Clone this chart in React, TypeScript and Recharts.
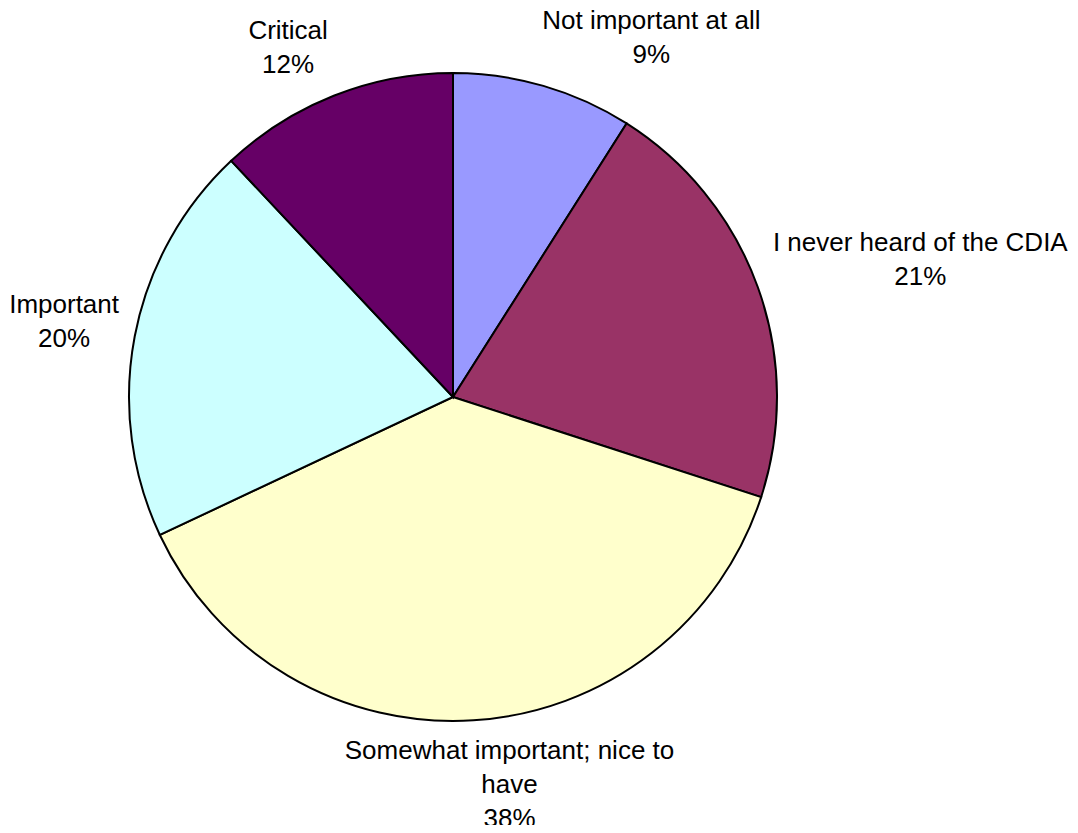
import React from 'react';
import { PieChart, Pie, Cell } from 'recharts';

const categories = [
  'Not important at all',
  'I never heard of the CDIA',
  'Somewhat important; nice to have',
  'Important',
  'Critical',
];
const shares = [9, 21, 38, 20, 12];
const colors = ['#9999FF', '#993366', '#FFFFCC', '#CCFFFF', '#660066'];

const data = categories.map((name, i) => ({ name, value: shares[i] }));

const W = 1078;
const H = 833;
const FONT_SIZE = 26;
const LINE_H = 34;
const FONT = `${FONT_SIZE}px 'Liberation Sans', Arial, sans-serif`;

let ctx: CanvasRenderingContext2D | null = null;
const measure = (s: string) => {
  if (!ctx) ctx = document.createElement('canvas').getContext('2d');
  if (!ctx) return s.length * FONT_SIZE * 0.5;
  ctx.font = FONT;
  return ctx.measureText(s).width;
};

// simple word wrap, like the office label box
const wrap = (text: string, maxW: number) => {
  const words = text.split(' ');
  const lines: string[] = [];
  let cur = '';
  words.forEach((w) => {
    const next = cur ? cur + ' ' + w : w;
    if (cur && measure(next) > maxW) {
      lines.push(cur);
      cur = w;
    } else cur = next;
  });
  if (cur) lines.push(cur);
  return lines;
};

const clamp = (v: number) => Math.max(-1, Math.min(1, v));
const RAD = Math.PI / 180;

const renderLabel = (props: any) => {
  const { cx, cy, midAngle, outerRadius, name, percent } = props;
  const lines = [...wrap(name, 370), `${Math.round(percent * 100)}%`];
  const w = Math.max(...lines.map(measure));
  const h = lines.length * LINE_H;
  const ux = Math.cos(midAngle * RAD);
  const uy = -Math.sin(midAngle * RAD);
  const R = outerRadius + 16;
  const bx = cx + R * ux + (w / 2) * clamp(ux * 3.4);
  const by = cy + R * uy + (h / 2) * clamp(uy * 2);
  let first = by - ((lines.length - 1) * LINE_H) / 2 + 9;
  // keep the label box inside the chart
  const last = first + (lines.length - 1) * LINE_H;
  if (last > H - 6) first -= last - (H - 6);
  return (
    <text
      x={bx}
      y={first}
      textAnchor="middle"
      fill="#000"
      style={{ font: FONT }}
    >
      {lines.map((l, i) => (
        <tspan key={i} x={bx} y={first + i * LINE_H}>
          {l}
        </tspan>
      ))}
    </text>
  );
};

export default function App() {
  return (
    <div style={{ width: W, height: H, margin: -8, background: '#fff' }}>
      <PieChart
        width={W}
        height={H}
        margin={{ top: 0, right: 0, bottom: 0, left: 0 }}
      >
        <Pie
          data={data}
          dataKey="value"
          nameKey="name"
          cx={453}
          cy={397}
          outerRadius={324}
          startAngle={90}
          endAngle={-270}
          stroke="#000"
          strokeWidth={2}
          label={renderLabel}
          labelLine={false}
          isAnimationActive={false}
        >
          {data.map((d, i) => (
            <Cell key={d.name} fill={colors[i]} />
          ))}
        </Pie>
      </PieChart>
    </div>
  );
}
